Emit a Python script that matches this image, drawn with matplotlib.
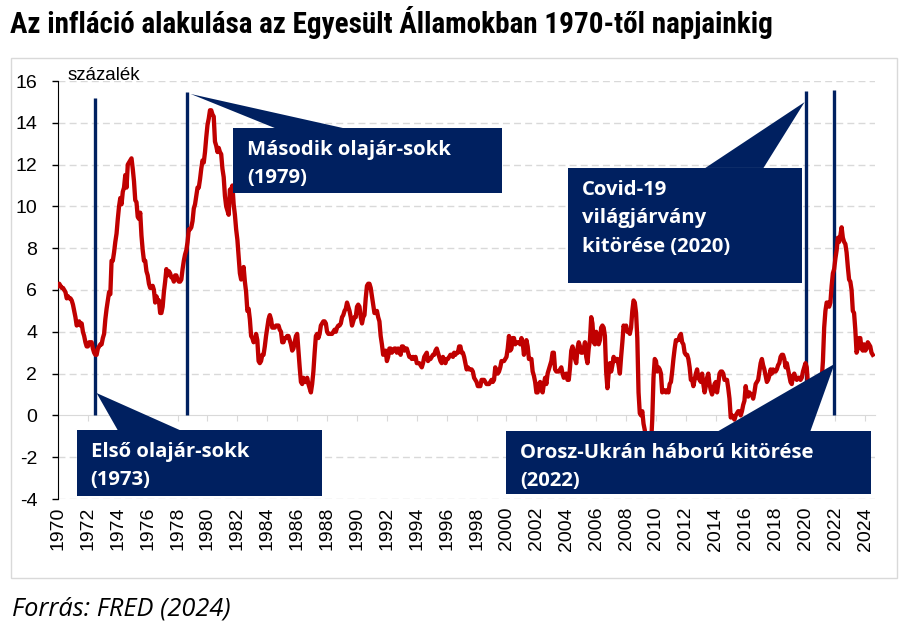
import numpy as np
import matplotlib
matplotlib.use("Agg")
import matplotlib.pyplot as plt
from matplotlib import font_manager
from matplotlib.patches import Rectangle, Polygon
from matplotlib.transforms import blended_transform_factory

start_year = 1970
cpi_yoy = [
    6.2, 6.3, 6.2, 6.1, 6.1, 6.0, 5.9, 5.6, 5.7, 5.6, 5.6, 5.5,          # 1970
    5.3, 5.0, 4.7, 4.3, 4.4, 4.5, 4.3, 4.4, 4.0, 3.8, 3.5, 3.3,          # 1971
    3.3, 3.5, 3.5, 3.5, 3.2, 3.0, 2.9, 2.9, 3.2, 3.3, 3.4, 3.4,          # 1972
    3.7, 3.9, 4.6, 5.1, 5.5, 5.9, 5.8, 7.4, 7.4, 7.8, 8.3, 8.7,          # 1973
    9.4, 10.0, 10.4, 10.1, 10.7, 10.9, 11.5, 10.9, 12.0, 12.1, 12.2, 12.3,  # 1974
    11.8, 11.2, 10.3, 10.2, 9.5, 9.4, 9.7, 8.6, 7.9, 7.4, 7.4, 6.9,      # 1975
    6.7, 6.3, 6.1, 6.1, 6.2, 6.0, 5.4, 5.7, 5.5, 5.5, 4.9, 4.9,          # 1976
    5.2, 5.9, 6.4, 7.0, 6.7, 6.9, 6.8, 6.6, 6.6, 6.4, 6.7, 6.7,          # 1977
    6.5, 6.4, 6.4, 6.5, 7.0, 7.4, 7.7, 7.9, 8.3, 8.9, 8.9, 9.0,          # 1978
    9.3, 9.9, 10.1, 10.5, 10.9, 10.9, 11.3, 11.8, 12.2, 12.1, 12.6, 13.3,  # 1979
    13.9, 14.2, 14.6, 14.6, 14.4, 14.3, 13.1, 12.9, 12.6, 12.8, 12.6, 12.5,  # 1980
    11.8, 11.4, 10.5, 10.0, 9.8, 9.6, 10.8, 10.8, 11.0, 10.1, 9.6, 8.9,  # 1981
    8.4, 7.6, 6.8, 6.5, 6.7, 7.1, 6.4, 5.9, 5.0, 5.1, 4.6, 3.8,          # 1982
    3.7, 3.5, 3.6, 3.9, 3.6, 2.6, 2.5, 2.6, 2.9, 2.9, 3.3, 3.8,          # 1983
    4.2, 4.6, 4.8, 4.6, 4.2, 4.2, 4.2, 4.3, 4.3, 4.3, 4.1, 4.0,          # 1984
    3.5, 3.5, 3.7, 3.7, 3.8, 3.8, 3.6, 3.4, 3.1, 3.2, 3.5, 3.8,          # 1985
    3.9, 3.1, 2.3, 1.6, 1.5, 1.8, 1.6, 1.6, 1.8, 1.5, 1.3, 1.1,          # 1986
    1.5, 2.1, 3.0, 3.8, 3.9, 3.7, 3.9, 4.3, 4.4, 4.5, 4.5, 4.4,          # 1987
    4.0, 3.9, 3.9, 3.9, 3.9, 4.0, 4.1, 4.0, 4.2, 4.3, 4.3, 4.4,          # 1988
    4.7, 4.8, 5.0, 5.1, 5.4, 5.2, 5.0, 4.7, 4.3, 4.5, 4.7, 4.7,          # 1989
    5.2, 5.3, 5.2, 4.7, 4.4, 4.7, 4.8, 5.6, 6.2, 6.3, 6.3, 6.1,          # 1990
    5.7, 5.3, 4.9, 4.9, 5.0, 4.7, 4.5, 3.8, 3.4, 2.9, 3.0, 3.1,          # 1991
    2.6, 2.8, 3.2, 3.2, 3.0, 3.1, 3.2, 3.2, 3.0, 3.2, 3.1, 2.9,          # 1992
    3.3, 3.3, 3.1, 3.2, 3.2, 3.0, 2.8, 2.8, 2.7, 2.8, 2.7, 2.8,          # 1993
    2.5, 2.5, 2.5, 2.4, 2.3, 2.5, 2.8, 2.9, 3.0, 2.6, 2.7, 2.7,          # 1994
    2.8, 2.9, 2.9, 3.1, 3.2, 3.0, 2.8, 2.6, 2.5, 2.8, 2.6, 2.5,          # 1995
    2.7, 2.7, 2.8, 2.9, 2.9, 2.8, 3.0, 2.9, 3.0, 3.0, 3.3, 3.3,          # 1996
    3.0, 3.0, 2.8, 2.5, 2.2, 2.3, 2.2, 2.2, 2.2, 2.1, 1.8, 1.7,          # 1997
    1.6, 1.4, 1.4, 1.4, 1.7, 1.7, 1.7, 1.6, 1.5, 1.5, 1.5, 1.6,          # 1998
    1.7, 1.6, 1.7, 2.3, 2.1, 2.0, 2.1, 2.3, 2.6, 2.6, 2.6, 2.7,          # 1999
    2.8, 3.2, 3.8, 3.1, 3.2, 3.7, 3.7, 3.4, 3.5, 3.5, 3.5, 3.4,          # 2000
    3.7, 3.5, 2.9, 3.3, 3.6, 3.3, 2.7, 2.7, 2.7, 2.1, 1.9, 1.6,          # 2001
    1.1, 1.1, 1.5, 1.6, 1.2, 1.1, 1.5, 1.8, 1.5, 2.0, 2.2, 2.4,          # 2002
    2.6, 3.0, 3.0, 2.2, 2.1, 2.1, 2.1, 2.2, 2.3, 2.0, 1.8, 1.9,          # 2003
    2.0, 1.7, 1.7, 2.3, 3.1, 3.3, 3.0, 2.7, 2.5, 3.2, 3.5, 3.3,          # 2004
    3.0, 3.0, 3.2, 3.5, 2.8, 2.5, 3.2, 3.6, 4.7, 4.4, 3.5, 3.4,          # 2005
    4.0, 3.6, 3.4, 3.6, 4.2, 4.3, 4.2, 3.8, 2.1, 1.3, 2.0, 2.5,          # 2006
    2.1, 2.4, 2.8, 2.6, 2.7, 2.7, 2.4, 2.0, 2.8, 3.5, 4.3, 4.1,          # 2007
    4.3, 4.0, 4.0, 3.9, 4.2, 5.0, 5.5, 5.4, 4.9, 3.7, 1.1, 0.1,          # 2008
    0.0, 0.2, -0.4, -0.7, -1.3, -1.4, -2.1, -1.5, -1.4, -0.2, 1.8, 2.7,  # 2009
    2.6, 2.1, 2.3, 2.2, 2.0, 1.1, 1.2, 1.2, 1.1, 1.2, 1.1, 1.5,          # 2010
    1.6, 2.1, 2.7, 3.2, 3.6, 3.6, 3.6, 3.8, 3.9, 3.5, 3.4, 3.0,          # 2011
    2.9, 2.9, 2.7, 2.3, 1.7, 1.7, 1.4, 1.7, 2.0, 2.2, 1.8, 1.7,          # 2012
    1.6, 2.0, 1.5, 1.1, 1.4, 1.8, 2.0, 1.5, 1.2, 1.0, 1.2, 1.5,          # 2013
    1.6, 1.1, 1.5, 2.0, 2.1, 2.1, 2.0, 1.7, 1.7, 1.7, 1.3, 0.8,          # 2014
    -0.1, 0.0, -0.1, -0.2, 0.0, 0.1, 0.2, 0.2, 0.0, 0.2, 0.5, 0.7,       # 2015
    1.4, 1.0, 0.9, 1.1, 1.0, 1.0, 0.8, 1.1, 1.5, 1.6, 1.7, 2.1,          # 2016
    2.5, 2.7, 2.4, 2.2, 1.9, 1.6, 1.7, 1.9, 2.2, 2.0, 2.2, 2.1,          # 2017
    2.1, 2.2, 2.4, 2.5, 2.8, 2.9, 2.9, 2.7, 2.3, 2.5, 2.2, 1.9,          # 2018
    1.6, 1.5, 1.9, 2.0, 1.8, 1.7, 1.8, 1.8, 1.7, 1.8, 2.1, 2.3,          # 2019
    2.5, 2.3, 1.5, 0.3, 0.1, 0.6, 1.0, 1.3, 1.4, 1.2, 1.2, 1.4,          # 2020
    1.4, 1.7, 2.6, 4.2, 5.0, 5.4, 5.4, 5.2, 5.4, 6.2, 6.8, 7.0,          # 2021
    7.5, 7.9, 8.5, 8.3, 8.6, 9.0, 8.5, 8.3, 8.2, 7.8, 7.1, 6.5,          # 2022
    6.4, 6.0, 5.0, 4.9, 4.1, 3.0, 3.2, 3.7, 3.7, 3.2, 3.1, 3.4,          # 2023
    3.1, 3.2, 3.5, 3.4, 3.3, 3.0, 2.9,                                  # 2024
]
year_ticks = list(range(1970, 2025, 2))
y_ticks = list(range(-4, 17, 2))

# event markers: year position and top of the vertical line
event_years = [1972.48, 1978.64, 2020.03, 2021.9]
event_tops = [15.2, 15.45, 15.5, 15.55]

callout_lines = [
    ["Második olajár-sokk", "(1979)"],
    ["Első olajár-sokk", "(1973)"],
    ["Covid-19", "világjárvány", "kitörése (2020)"],
    ["Orosz-Ukrán háború kitörése", "(2022)"],
]
# box (x0, x1, y0, y1), wedge apex, wedge base x-range (on box top) - layout in data units
callout_boxes = [(1981.69, 1999.70, 10.64, 13.75), (1971.24, 1987.65, -3.86, -0.70),
                 (2004.13, 2019.74, 6.34, 11.84), (1999.97, 2024.35, -3.76, -0.75)]
callout_apex = [(1978.87, 15.38), (1972.58, 1.07), (2019.94, 14.99), (2021.94, 2.46)]
callout_base = [(1984.5, 1989.06), (1973.99, 1978.14), (2013.30, 2017.19), (2014.17, 2020.33)]

NAVY = "#002060"
RED = "#C00000"
GRID = "#d9d9d9"
TICK_FONT = ["Liberation Sans", "DejaVu Sans"]
BOX_FONT = ["Open Sans", "DejaVu Sans"]

# narrow bold face for the title if one is installed
names = {f.name for f in font_manager.fontManager.ttflist}
title_kw = dict(family=["Roboto", "DejaVu Sans"])
for cand in ["Liberation Sans Narrow", "Roboto Condensed", "Open Sans Condensed", "Noto Sans Condensed"]:
    if cand in names:
        title_kw = dict(family=[cand, "DejaVu Sans"])
        break

x = start_year + np.arange(len(cpi_yoy)) / 12.0

fig = plt.figure(figsize=(9.05, 6.35), dpi=100)
ax = fig.add_axes([58 / 905, 136 / 635, 817 / 905, 418 / 635])

fig.patches.append(Rectangle((11 / 905, 57 / 635), 886 / 905, 520 / 635, transform=fig.transFigure,
                             fill=False, edgecolor=GRID, lw=1.0, zorder=0))

for yt in y_ticks:
    if yt != 0:
        ax.axhline(yt, color=GRID, lw=1.0, ls=(0, (5, 3)), zorder=0)

for xv, top in zip(event_years, event_tops):
    ax.plot([xv, xv], [0, top], color=NAVY, lw=2.4, zorder=2, solid_capstyle="butt")

ax.plot(x, cpi_yoy, color=RED, lw=3.1, zorder=3, solid_joinstyle="round")

for lines, (x0, x1, y0, y1), apex, (b0, b1) in zip(callout_lines, callout_boxes, callout_apex, callout_base):
    ax.add_patch(Polygon([apex, (b0, y1), (b1, y1)], closed=True, facecolor=NAVY, edgecolor="none",
                         zorder=4, clip_on=False))
    ax.add_patch(Rectangle((x0, y0), x1 - x0, y1 - y0, facecolor=NAVY, edgecolor="none",
                           zorder=4, clip_on=False))
    for i, line in enumerate(lines):
        ax.annotate(line, xy=(x0, y1), xytext=(14, -27 - 28.3 * i), textcoords="offset pixels",
                    color="white", fontsize=14.6, fontweight="bold", family=BOX_FONT,
                    va="baseline", ha="left", zorder=5)

ax.set_xlim(1970, 2024.65)
ax.set_ylim(-4, 16)
ax.set_yticks(y_ticks)
ax.set_yticklabels([str(v) for v in y_ticks], family=TICK_FONT, fontsize=14)
ax.set_xticks(year_ticks)
ax.tick_params(axis="x", direction="out", length=4, color=GRID, labelbottom=False)
ax.tick_params(axis="y", direction="out", length=4, color="black", width=1, pad=11)
ax.spines["bottom"].set_position(("data", 0))
ax.spines["bottom"].set_color(GRID)
ax.spines["bottom"].set_zorder(1)
ax.spines["left"].set_color("black")
ax.spines["top"].set_visible(False)
ax.spines["right"].set_visible(False)
ax.set_facecolor("none")

trans = blended_transform_factory(ax.transData, ax.transAxes)
for yr in year_ticks:
    ax.annotate(str(yr), xy=(yr, 0), xycoords=trans, xytext=(0, -8), textcoords="offset pixels",
                rotation=90, ha="center", va="top", family=TICK_FONT, fontsize=14)

fig.text(68 / 905, 1 - 80 / 635, "százalék", family=TICK_FONT, fontsize=13.5, va="baseline", ha="left")
title = fig.text(10 / 905, 1 - 33 / 635,
                 "Az infláció alakulása az Egyesült Államokban 1970-től napjainkig",
                 fontweight="bold", fontsize=20, va="baseline", ha="left", **title_kw)
# scale the title so it spans the same width as in the original
renderer = fig.canvas.get_renderer()
w = title.get_window_extent(renderer).width
title.set_fontsize(min(22, 20 * 763 / w))
fig.text(12 / 905, 1 - 616 / 635, "Forrás: FRED (2024)", family=BOX_FONT, style="italic",
         fontsize=18.3, va="baseline", ha="left")

fig.savefig("out.png", dpi=100)
